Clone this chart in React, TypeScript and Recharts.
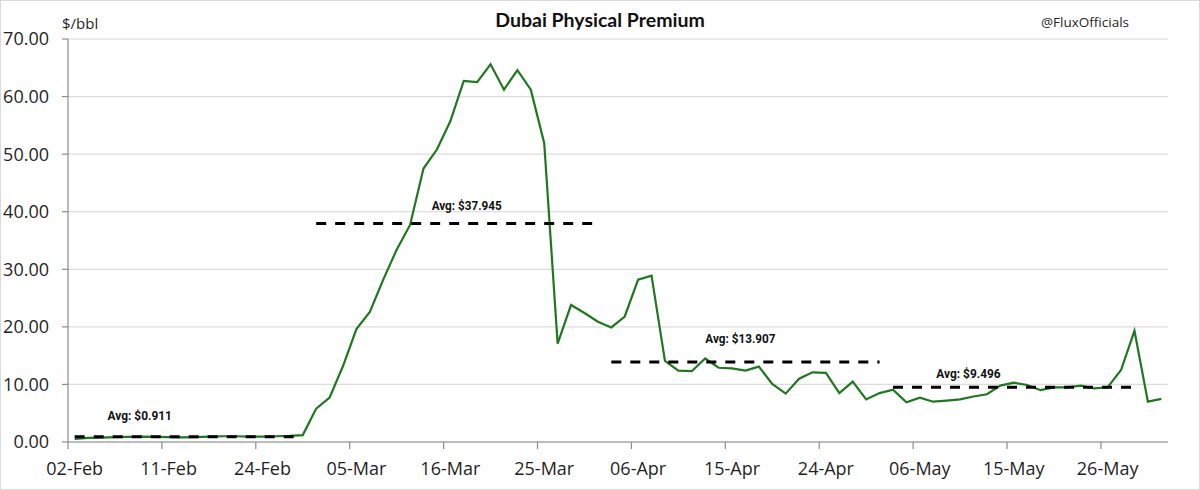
import React from 'react';
import { LineChart, Line, XAxis, YAxis, CartesianGrid } from 'recharts';

// Trading days on the category axis
const dates = [
  '02-Feb', '03-Feb', '04-Feb', '05-Feb', '06-Feb', '09-Feb', '10-Feb', '11-Feb', '12-Feb', '13-Feb',
  '18-Feb', '19-Feb', '20-Feb', '23-Feb', '24-Feb', '25-Feb', '26-Feb', '27-Feb',
  '02-Mar', '03-Mar', '04-Mar', '05-Mar', '06-Mar', '09-Mar', '10-Mar', '11-Mar', '12-Mar', '13-Mar',
  '16-Mar', '17-Mar', '18-Mar', '19-Mar', '20-Mar', '23-Mar', '24-Mar', '25-Mar', '26-Mar', '27-Mar',
  '30-Mar', '31-Mar',
  '01-Apr', '02-Apr', '06-Apr', '07-Apr', '08-Apr', '09-Apr', '10-Apr', '13-Apr', '14-Apr', '15-Apr',
  '16-Apr', '17-Apr', '20-Apr', '21-Apr', '22-Apr', '23-Apr', '24-Apr', '27-Apr', '28-Apr', '29-Apr',
  '30-Apr',
  '04-May', '05-May', '06-May', '07-May', '08-May', '11-May', '12-May', '13-May', '14-May', '15-May',
  '18-May', '19-May', '20-May', '21-May', '22-May', '25-May', '26-May', '27-May', '28-May', '29-May',
  '01-Jun',
];

// Dubai physical premium, $/bbl
const premium = [
  0.55, 0.7, 0.75, 0.85, 0.9, 0.95, 0.9, 0.85, 0.8, 0.85, 0.95, 1.0, 1.0, 0.95, 0.95, 1.0, 1.05, 1.2,
  5.8, 7.7, 13.2, 19.6, 22.6, 28.2, 33.4, 37.7, 47.5, 50.8, 55.7, 62.7, 62.5, 65.6, 61.2, 64.6, 61.2,
  51.9, 17.1, 23.8, 22.4, 20.9,
  19.9, 21.8, 28.2, 28.9, 14.1, 12.4, 12.3, 14.5, 12.9, 12.8, 12.4, 13.1, 10.1, 8.4, 11.0, 12.1, 12.0,
  8.5, 10.5, 7.4, 8.5,
  9.1, 6.9, 7.7, 7.0, 7.2, 7.4, 7.9, 8.3, 9.8, 10.3, 9.9, 9.0, 9.5, 9.5, 9.8, 9.3, 9.5, 12.5, 19.3,
  7.0, 7.5,
];

// Period averages and the first / last trading-day index each one covers
const averages = [0.911, 37.945, 13.907, 9.496];
const periodStart = [0, 18, 40, 61];
const periodEnd = [17, 39, 60, 79];

const yTicks = [0, 10, 20, 30, 40, 50, 60, 70];
const xTicks = [0, 7, 14, 21, 28, 35, 42, 49, 56, 63, 70, 77];

// Where each average caption sits: anchor day, horizontal nudge, height above the line
const captionPlacement = [
  { at: 5, dx: -2, rise: 21 },
  { at: 29, dx: 3, rise: 18 },
  { at: 50, dx: -5, rise: 23 },
  { at: 67, dx: -5, rise: 14 },
];

const rows = dates.map((d, i) => {
  const row: Record<string, number | string | null> = { i, date: d, premium: premium[i] };
  averages.forEach((a, k) => {
    row[`avg${k}`] = i >= periodStart[k] && i <= periodEnd[k] ? a : null;
  });
  return row;
});

const W = 1200;
const H = 490;
const PLOT_LEFT = 68;
const PLOT_RIGHT = 1168;
const BAND = (PLOT_RIGHT - PLOT_LEFT) / dates.length;

const AXIS_FONT = "'Open Sans', 'Noto Sans', sans-serif";
const AXIS_GREY = '#8c8c8c';
const GREEN = '#1f771f';

const DateTick = (props: any) => {
  const { x, y, payload } = props;
  const edge = x - BAND / 2;
  return (
    <g>
      <line x1={edge} x2={edge} y1={y} y2={y + 7} stroke={AXIS_GREY} strokeWidth={1.2} />
      <text
        x={x}
        y={y + 33}
        textAnchor="middle"
        fontFamily={AXIS_FONT}
        fontSize={18}
        fill="#1f1f1f"
      >
        {dates[payload.value]}
      </text>
    </g>
  );
};

const makeCaption = (k: number) => (props: any) => {
  const { x, y, index } = props;
  const place = captionPlacement[k];
  if (index !== place.at || x == null || y == null) return null;
  const caption = `Avg: $${averages[k].toFixed(3)}`;
  return (
    <text
      x={x + place.dx}
      y={y - place.rise}
      textAnchor="middle"
      dominantBaseline="central"
      fontFamily="'Liberation Sans Narrow', 'Arial Narrow', 'Roboto', sans-serif"
      fontWeight={700}
      fontSize={13}
      textLength={caption.length * 5.85}
      lengthAdjust="spacingAndGlyphs"
      fill="#111"
    >
      {caption}
    </text>
  );
};

export default function App() {
  return (
    <div
      style={{
        position: 'fixed',
        left: 0,
        top: 0,
        width: W,
        height: H,
        background: '#fff',
        overflow: 'hidden',
      }}
    >
      <LineChart
        width={W}
        height={H}
        data={rows}
        margin={{ top: 39, right: W - PLOT_RIGHT, left: 0, bottom: 0 }}
      >
        <CartesianGrid vertical={false} stroke="#dcdcdc" strokeWidth={1.2} />
        <XAxis
          dataKey="i"
          type="number"
          domain={[-0.5, dates.length - 0.5]}
          ticks={xTicks}
          interval={0}
          height={48}
          tickSize={0}
          tickMargin={0}
          tickLine={false}
          axisLine={{ stroke: AXIS_GREY, strokeWidth: 1.2 }}
          tick={<DateTick />}
        />
        <YAxis
          type="number"
          domain={[0, 70]}
          ticks={yTicks}
          width={PLOT_LEFT}
          tickSize={6}
          tickMargin={13}
          axisLine={{ stroke: AXIS_GREY, strokeWidth: 1.2 }}
          tickLine={{ stroke: AXIS_GREY, strokeWidth: 1.2 }}
          tickFormatter={(v: number) => v.toFixed(2)}
          tick={{ fontFamily: AXIS_FONT, fontSize: 18, fill: '#1f1f1f' }}
        />
        <Line
          dataKey="premium"
          stroke={GREEN}
          strokeWidth={2.2}
          dot={false}
          isAnimationActive={false}
        />
        {averages.map((_, k) => (
          <Line
            key={k}
            dataKey={`avg${k}`}
            stroke="#000"
            strokeWidth={3}
            strokeDasharray="10 9"
            dot={false}
            connectNulls={false}
            isAnimationActive={false}
            label={makeCaption(k)}
          />
        ))}
      </LineChart>

      <div
        style={{
          position: 'absolute',
          left: 0,
          width: W,
          top: 7,
          textAlign: 'center',
          fontFamily: "'Lato', sans-serif",
          fontWeight: 700,
          fontSize: 19.5,
          lineHeight: '26px',
          color: '#111',
        }}
      >
        Dubai Physical Premium
      </div>
      <div
        style={{
          position: 'absolute',
          left: 62,
          top: 12,
          fontFamily: AXIS_FONT,
          fontSize: 15,
          lineHeight: '22px',
          color: '#1f1f1f',
        }}
      >
        $/bbl
      </div>
      <div
        style={{
          position: 'absolute',
          left: 1041,
          top: 11,
          fontFamily: AXIS_FONT,
          fontSize: 13.5,
          lineHeight: '22px',
          color: '#1f1f1f',
        }}
      >
        @FluxOfficials
      </div>
      <div
        style={{
          position: 'absolute',
          inset: 0,
          border: '1px solid #d9d9d9',
          pointerEvents: 'none',
        }}
      />
    </div>
  );
}
